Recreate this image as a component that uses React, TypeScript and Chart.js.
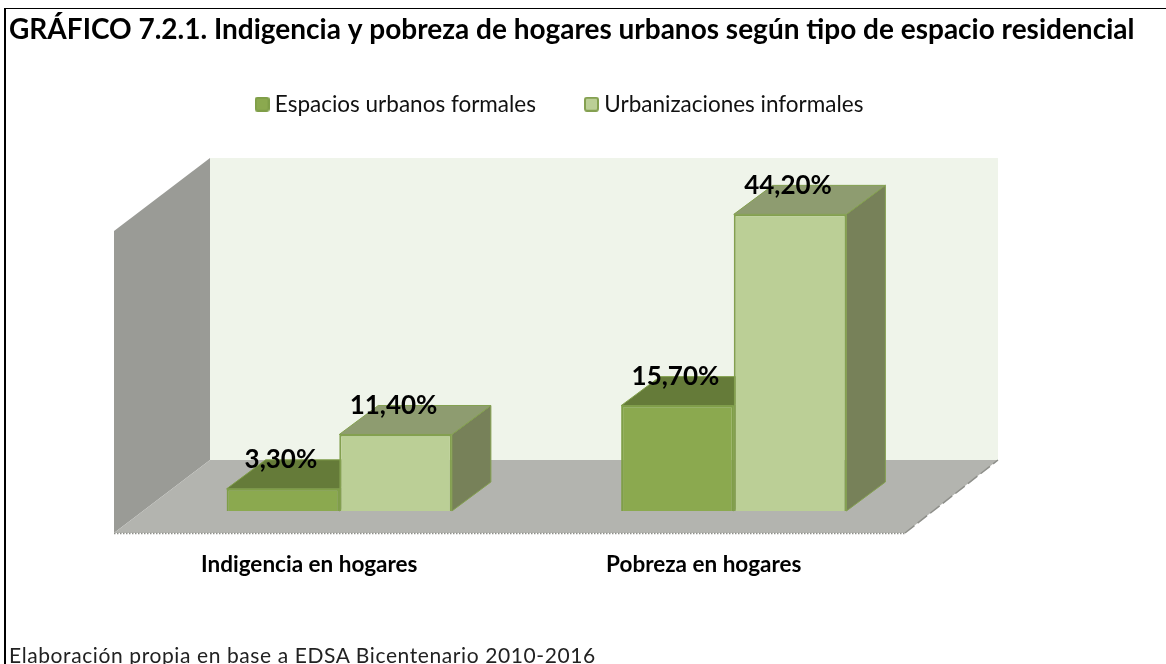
import React, { useEffect, useRef } from "react";
import { Chart, registerables } from "chart.js";

Chart.register(...registerables);

const titleText = "GRÁFICO 7.2.1. Indigencia y pobreza de hogares urbanos según tipo de espacio residencial";
const footerText = "Elaboración propia en base a EDSA Bicentenario 2010-2016";
const categories = ["Indigencia en hogares", "Pobreza en hogares"];
const seriesNames = ["Espacios urbanos formales", "Urbanizaciones informales"];
const formalValues = [3.3, 15.7];
const informalValues = [11.4, 44.2];
const yMax = 45;

const FONT = "Lato, Carlito, 'Open Sans', sans-serif";
const BAR_DX = 39;
const BAR_DY = 29;
const WALL_DX = 96;
const WALL_DY = 73;

const faces = [
  { front: "#8BA94F", edge: "#7F9E48", top: "#657B39", side: "#5F7336" },
  { front: "#BBCF96", edge: "#84A050", top: "#8E9C70", side: "#778159" },
];

function poly(ctx: CanvasRenderingContext2D, pts: number[][], fill: string, stroke?: string, lw = 1) {
  ctx.beginPath();
  pts.forEach((p, i) => (i ? ctx.lineTo(p[0], p[1]) : ctx.moveTo(p[0], p[1])));
  ctx.closePath();
  ctx.fillStyle = fill;
  ctx.fill();
  if (stroke) {
    ctx.strokeStyle = stroke;
    ctx.lineWidth = lw;
    ctx.stroke();
  }
}

function swatch(i: number) {
  const c = document.createElement("canvas");
  c.width = 15;
  c.height = 15;
  const g = c.getContext("2d") as CanvasRenderingContext2D;
  g.beginPath();
  g.roundRect(1, 1, 13, 13, 2);
  g.fillStyle = faces[i].front;
  g.fill();
  g.lineWidth = 2;
  g.strokeStyle = faces[i].edge;
  g.stroke();
  return c;
}

const scene = {
  id: "scene",
  beforeLayout(chart: any) {
    const legend = chart.legend;
    if (legend && !legend.__wrapped) {
      const fit = legend.fit;
      legend.fit = function () {
        fit.call(this);
        this.height = 165;
      };
      legend.__wrapped = true;
    }
  },
  beforeDraw(chart: any) {
    chart.titleBlock.left = 9;
    chart.titleBlock.right = 1166;
    chart.legend.left = 0;
    chart.legend.right = 1124;
    chart.legend.top = 39;
  },
  beforeDatasetsDraw(chart: any) {
    const ctx = chart.ctx as CanvasRenderingContext2D;
    const { chartArea, scales } = chart;
    const y0 = scales.y.getPixelForValue(0);
    const yTop = scales.y.getPixelForValue(yMax);
    const fl = chartArea.left - 28;
    const fr = chartArea.right - 26;
    const fb = y0 + 22;
    const ft = yTop + 22;
    ctx.save();
    poly(ctx, [[fl + WALL_DX, ft - WALL_DY], [fr + WALL_DX - 3, ft - WALL_DY], [fr + WALL_DX - 3, fb - WALL_DY], [fl + WALL_DX, fb - WALL_DY]], "#EFF4EA");
    poly(ctx, [[fl, ft], [fl + WALL_DX, ft - WALL_DY], [fl + WALL_DX, fb - WALL_DY], [fl, fb]], "#9A9B96");
    poly(ctx, [[fl, fb], [fl + WALL_DX, fb - WALL_DY], [fr + WALL_DX - 3, fb - WALL_DY], [fr, fb]], "#B3B4AF");
    ctx.strokeStyle = "#8E8F8A";
    ctx.lineWidth = 1.5;
    ctx.setLineDash([1.5, 1.5]);
    ctx.beginPath();
    ctx.moveTo(fl, fb + 0.5);
    ctx.lineTo(fr, fb + 0.5);
    ctx.stroke();
    ctx.setLineDash([12, 4]);
    ctx.beginPath();
    ctx.moveTo(fr, fb);
    ctx.lineTo(fr + WALL_DX - 3, fb - WALL_DY);
    ctx.stroke();
    ctx.setLineDash([]);
    chart.data.datasets.forEach((_: any, d: number) => {
      const f = faces[d];
      chart.getDatasetMeta(d).data.forEach((el: any) => {
        const l = el.x - el.width / 2;
        const r = el.x + el.width / 2;
        const t = el.y;
        const b = el.base;
        poly(ctx, [[r, t], [r + BAR_DX, t - BAR_DY], [r + BAR_DX, b - BAR_DY], [r, b]], f.side, f.edge);
        poly(ctx, [[l, t], [l + BAR_DX, t - BAR_DY], [r + BAR_DX, t - BAR_DY], [r, t]], f.top, f.edge);
      });
    });
    ctx.restore();
  },
  afterDatasetsDraw(chart: any) {
    const ctx = chart.ctx as CanvasRenderingContext2D;
    ctx.save();
    ctx.font = `bold 26px ${FONT}`;
    ctx.fillStyle = "#000";
    ctx.textAlign = "center";
    ctx.textBaseline = "middle";
    chart.data.datasets.forEach((ds: any, d: number) => {
      chart.getDatasetMeta(d).data.forEach((el: any, i: number) => {
        const label = ds.data[i].toFixed(2).replace(".", ",") + "%";
        ctx.fillText(label, el.x - 2, el.y - BAR_DY);
      });
    });
    ctx.restore();
  },
};

export default function App() {
  const ref = useRef<HTMLCanvasElement>(null);
  useEffect(() => {
    document.body.style.margin = "0";
    const chart = new Chart(ref.current as HTMLCanvasElement, {
      type: "bar",
      data: {
        labels: categories,
        datasets: [
          { label: seriesNames[0], data: formalValues, backgroundColor: faces[0].front, borderColor: faces[0].edge, borderWidth: 2, barPercentage: 1, categoryPercentage: 0.571 },
          { label: seriesNames[1], data: informalValues, backgroundColor: faces[1].front, borderColor: faces[1].edge, borderWidth: 2, barPercentage: 1, categoryPercentage: 0.571 },
        ],
      },
      options: {
        responsive: false,
        animation: false,
        layout: { padding: { left: 142, right: 235, top: 0, bottom: 53 } },
        scales: {
          x: {
            grid: { display: false, drawTicks: false },
            border: { display: false },
            afterFit(axis: any) {
              axis.height = 100;
            },
            ticks: {
              padding: 40,
              labelOffset: -30,
              maxRotation: 0,
              autoSkip: false,
              color: "#000",
              font: { family: FONT, weight: "bold", size: 22.5 },
            },
          },
          y: { display: false, min: 0, max: yMax },
        },
        plugins: {
          tooltip: { enabled: false },
          title: {
            display: true,
            text: titleText,
            align: "start",
            color: "#000",
            padding: { top: 16, bottom: 0 },
            font: { family: FONT, weight: "bold", size: 28, lineHeight: 1 },
          },
          legend: {
            display: true,
            position: "top",
            labels: {
              usePointStyle: true,
              pointStyleWidth: 3,
              boxHeight: 15,
              padding: 54,
              color: "#111",
              font: { family: FONT, size: 22.5 },
              generateLabels(c: any) {
                return Chart.defaults.plugins.legend.labels
                  .generateLabels(c)
                  .map((it: any, i: number) => ({ ...it, pointStyle: swatch(i) }));
              },
            },
          },
        },
      },
      plugins: [scene],
    } as any);
    return () => chart.destroy();
  }, []);
  return (
    <div style={{ position: "fixed", inset: 0, overflow: "hidden", background: "#fff" }}>
      <canvas ref={ref} width={1166} height={664} style={{ position: "absolute", left: 0, top: 0, display: "block" }} />
      <div style={{ position: "absolute", left: 4, top: 8, right: 0, bottom: 0, borderLeft: "2px solid #000", borderTop: "1.5px solid #000", pointerEvents: "none" }} />
      <div style={{ position: "absolute", left: 9, top: 642, font: `21px ${FONT}`, letterSpacing: "0.6px", color: "#222", whiteSpace: "nowrap" }}>{footerText}</div>
    </div>
  );
}
